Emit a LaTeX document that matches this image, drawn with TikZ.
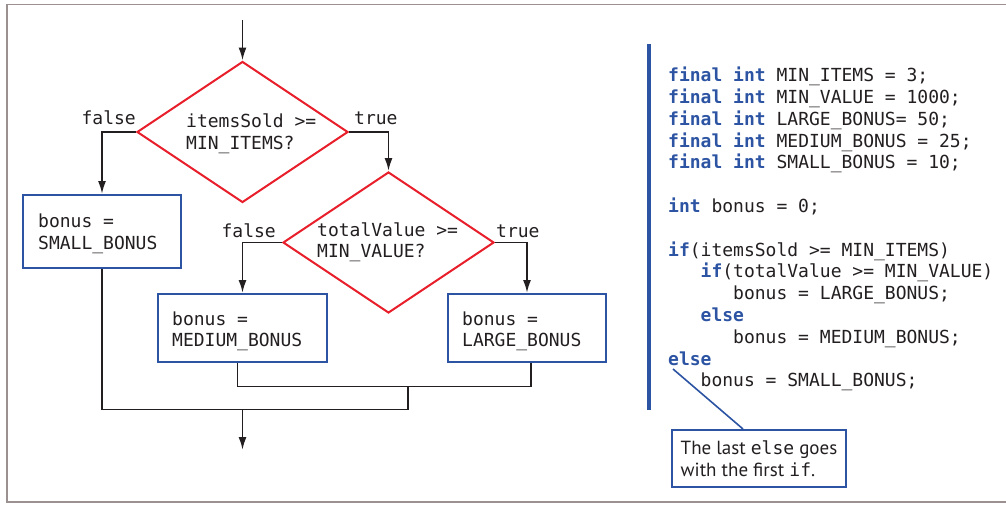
\documentclass[tikz,border=0pt]{standalone}
\usepackage{fontspec}
\setmainfont{PT Sans}
\setmonofont{DejaVu Sans Mono}
\newfontfamily\codefont{DejaVu Sans Mono}
\newfontfamily\notefont{PT Sans}
\usetikzlibrary{shapes.geometric,arrows.meta}
\definecolor{flred}{RGB}{232,32,44}
\definecolor{flblue}{RGB}{44,84,163}
\definecolor{ink}{RGB}{35,31,32}
\definecolor{framegray}{RGB}{155,145,145}
\newcommand\kw[1]{\textcolor{flblue}{\bfseries #1}}
\newcommand\ind[1]{\phantom{#1}}
\newcommand\notemono[1]{{\codefont\fontsize{18}{22}\selectfont #1}}
\tikzset{
  codetxt/.style={font=\codefont\fontsize{18}{22}\selectfont, text=ink, inner sep=0pt},
  decision/.style={diamond, draw=flred, line width=2pt, minimum width=211pt, minimum height=141pt, inner sep=0pt},
  actbox/.style={draw=flblue, line width=2pt, rectangle, inner sep=0pt},
  flow/.style={draw=ink, line width=1.9pt, line join=miter},
  flowarrow/.style={flow, -{Latex[length=13pt,width=8pt]}},
  branch/.style={font=\codefont\fontsize{18}{22}\selectfont, text=ink, inner sep=0pt},
}
\begin{document}
\begin{tikzpicture}[x=1pt,y=-1pt]
\useasboundingbox (0,0) rectangle (1006,504);
% frame
\draw[framegray, line width=1.3pt] (1006,4.5) -- (7,4.5) -- (7,502) -- (1006,502);

% decisions
\node[decision] (d1) at (242.5,132) {};
\node[decision] (d2) at (388.5,242.5) {};
\node[codetxt, anchor=base west] (d1t) at (186,127.3) {itemsSold >=};
\node[codetxt, anchor=base west] (d1u) at (186,149.3) {MIN\_ITEMS?};
\node[codetxt, anchor=base west] (d2t) at (317,236.7) {totalValue >=};
\node[codetxt, anchor=base west] (d2u) at (317,257.7) {MIN\_VALUE?};

% action boxes
\node[actbox, minimum width=158pt, minimum height=73pt] (small) at (102,231.5) {};
\node[actbox, minimum width=169pt, minimum height=68pt] (med) at (242.5,328) {};
\node[actbox, minimum width=158pt, minimum height=68pt] (large) at (527,328) {};
\node[codetxt, anchor=base west] (s1) at (38,227.7) {bonus =};
\node[codetxt, anchor=base west] (s2) at (38,249.3) {SMALL\_BONUS};
\node[codetxt, anchor=base west] (m1) at (172,325) {bonus =};
\node[codetxt, anchor=base west] (m2) at (172,346.7) {MEDIUM\_BONUS};
\node[codetxt, anchor=base west] (l1) at (462,325) {bonus =};
\node[codetxt, anchor=base west] (l2) at (462,346.7) {LARGE\_BONUS};

% branch labels
\node[branch, anchor=base east] (f1) at ([yshift=8pt]d1.west) {false};
\node[branch, anchor=base west] (t1) at ([xshift=5pt,yshift=8pt]d1.east) {true};
\node[branch, anchor=base east] (f2) at ([xshift=-6pt,yshift=5.5pt]d2.west) {false};
\node[branch, anchor=base west] (t2) at ([xshift=1pt,yshift=5.5pt]d2.east) {true};

% connectors
\coordinate (start) at (242.5,20);
\coordinate (j1) at (408,386.5);
\coordinate (j2) at (408,409.5);
\coordinate (finish) at (242.5,450);
\draw[flowarrow] (start) -- (d1.north);
\draw[flowarrow] (d1.west) -| (small.north);
\draw[flowarrow] (d1.east) -| (d2.north);
\draw[flowarrow] (d2.west) -| (med.north);
\draw[flowarrow] (d2.east) -| (large.north);
\draw[flow] ([xshift=-5pt]med.south) |- (j1) -| ([xshift=4pt]large.south);
\draw[flow] (j1) -- (j2);
\draw[flow] (small.south) |- (j2);
\draw[flowarrow] (finish |- j2) -- (finish);

% code panel
\draw[flblue, line width=4pt] (649,44) -- (649,410);
\node[codetxt, anchor=base west] (c1) at (668,81.7) {\kw{final} \kw{int} MIN\_ITEMS = 3;};
\node[codetxt, anchor=base west] (c2) at (668,103.5) {\kw{final} \kw{int} MIN\_VALUE = 1000;};
\node[codetxt, anchor=base west] (c3) at (668,125.3) {\kw{final} \kw{int} LARGE\_BONUS= 50;};
\node[codetxt, anchor=base west] (c4) at (668,147.1) {\kw{final} \kw{int} MEDIUM\_BONUS = 25;};
\node[codetxt, anchor=base west] (c5) at (668,168.9) {\kw{final} \kw{int} SMALL\_BONUS = 10;};
\node[codetxt, anchor=base west] (c6) at (668,212.5) {\kw{int} bonus = 0;};
\node[codetxt, anchor=base west] (c7) at (668,256.1) {\kw{if}(itemsSold >= MIN\_ITEMS)};
\node[codetxt, anchor=base west] (c8) at (668,277.9) {\ind{xxx}\kw{if}(totalValue >= MIN\_VALUE)};
\node[codetxt, anchor=base west] (c9) at (668,299.7) {\ind{xxxxxx}bonus = LARGE\_BONUS;};
\node[codetxt, anchor=base west] (c10) at (668,321.5) {\ind{xxx}\kw{else}};
\node[codetxt, anchor=base west] (c11) at (668,343.3) {\ind{xxxxxx}bonus = MEDIUM\_BONUS;};
\node[codetxt, anchor=base west] (c12) at (668,365.1) {\kw{else}};
\node[codetxt, anchor=base west] (c13) at (668,386.9) {\ind{xxx}bonus = SMALL\_BONUS;};

% callout
\node[draw=flblue, line width=2pt, rectangle, minimum width=174pt, minimum height=57pt,
      inner xsep=0pt, inner ysep=0pt, align=left, text=ink,
      font=\notefont\fontsize{19}{22}\selectfont] (note) at (759,458.5)
  {The last \notemono{else} goes\\with the first \notemono{if}.};
\coordinate (elsept) at (673,369);
\draw[flblue, line width=1.6pt] (elsept) -- ([xshift=-16pt]note.north);
\end{tikzpicture}
\end{document}
